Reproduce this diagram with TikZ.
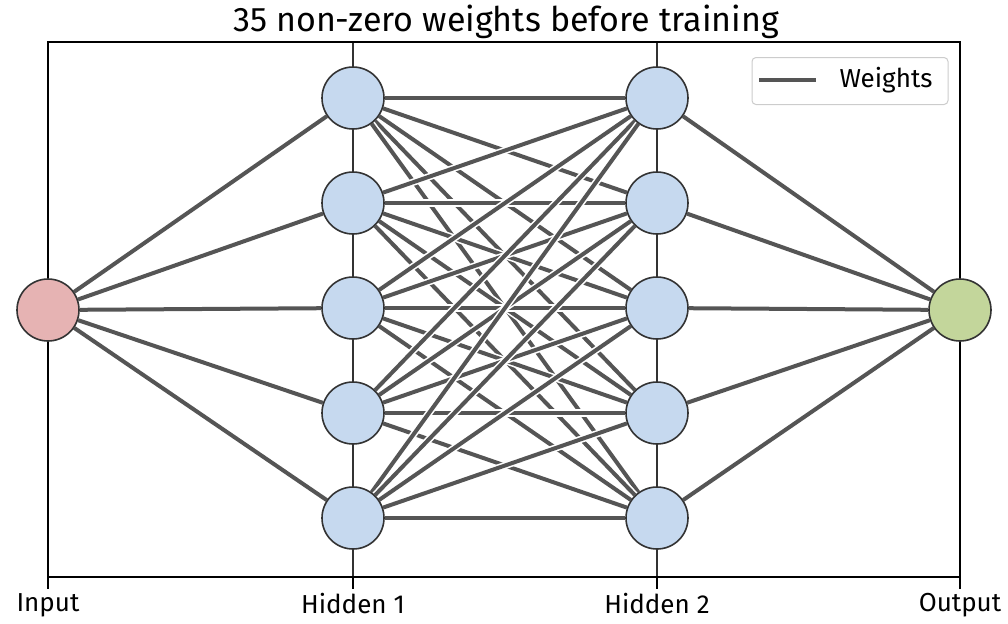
\documentclass[tikz,border=0pt]{standalone}
\usepackage{fontspec}
\setmainfont{Fira Sans}
\usetikzlibrary{shapes.geometric,calc}

\definecolor{hidblue}{HTML}{C6D9EF}
\definecolor{inred}{HTML}{E6B3B3}
\definecolor{outgreen}{HTML}{C3D69B}
\definecolor{wiregray}{HTML}{555555}
\definecolor{rimgray}{HTML}{333333}

\pgfdeclarelayer{grid}
\pgfdeclarelayer{wires}
\pgfsetlayers{grid,wires,main}

\begin{document}
\begin{tikzpicture}
	[x=0.5pt,y=-0.5pt,
	every node/.style={font=\fontsize{13}{15}\selectfont},
	neuron/.style={shape=circle,draw=rimgray,line width=0.8pt,minimum size=31pt,inner sep=0pt},
	weight/.style={draw=wiregray,line width=2pt,preaction={draw=white,line width=3.6pt}},
	keybox/.style={draw=black!20,line width=0.5pt,rounded corners=2pt,fill=white,minimum width=98pt,minimum height=23.5pt}]
	\useasboundingbox (0,0) rectangle (1008,623);
	
	% layers
	\node[neuron,fill=inred] (in) at (48,310) {};
	\foreach \i/\y in {1/98,2/203,3/308,4/413,5/518}
	{
		\node[neuron,fill=hidblue] (a\i) at (353,\y) {};
		\node[neuron,fill=hidblue] (b\i) at (657,\y) {};
	}
	\node[neuron,fill=outgreen] (out) at (960,310) {};
	
	% axes
	\begin{pgfonlayer}{grid}
		\foreach \x in {353,657}
		\draw[rimgray,line width=0.7pt] (\x,42) -- (\x,577);
		\draw[line width=1.3pt] (48,42) rectangle (960,577);
	\end{pgfonlayer}
	\foreach \x/\name in {48/Input,353/Hidden 1,657/Hidden 2,960/Output}
	{
		\draw[line width=1.3pt] (\x,577) -- (\x,589);
		\node[anchor=north,inner sep=0pt] at (\x,593) {\name};
	}
	\node (title) at (506,22) {\fontsize{17}{20}\selectfont 35 non-zero weights before training};
	
	% weights
	\begin{pgfonlayer}{wires}
		\foreach \i in {1,...,5}
		{
			\draw[weight] (in) -- (a\i);
			\draw[weight] (b\i) -- (out);
			\foreach \j in {1,...,5}
			\draw[weight] (a\i) -- (b\j);
		}
	\end{pgfonlayer}
	
	% legend
	\node[keybox] (key) at (850,81) {};
	\coordinate (k1) at (759,80);
	\coordinate (k2) at (816,80);
	\draw[weight] (k1) -- (k2);
	\node (klabel) at (886,80) {Weights};
\end{tikzpicture}
\end{document}
